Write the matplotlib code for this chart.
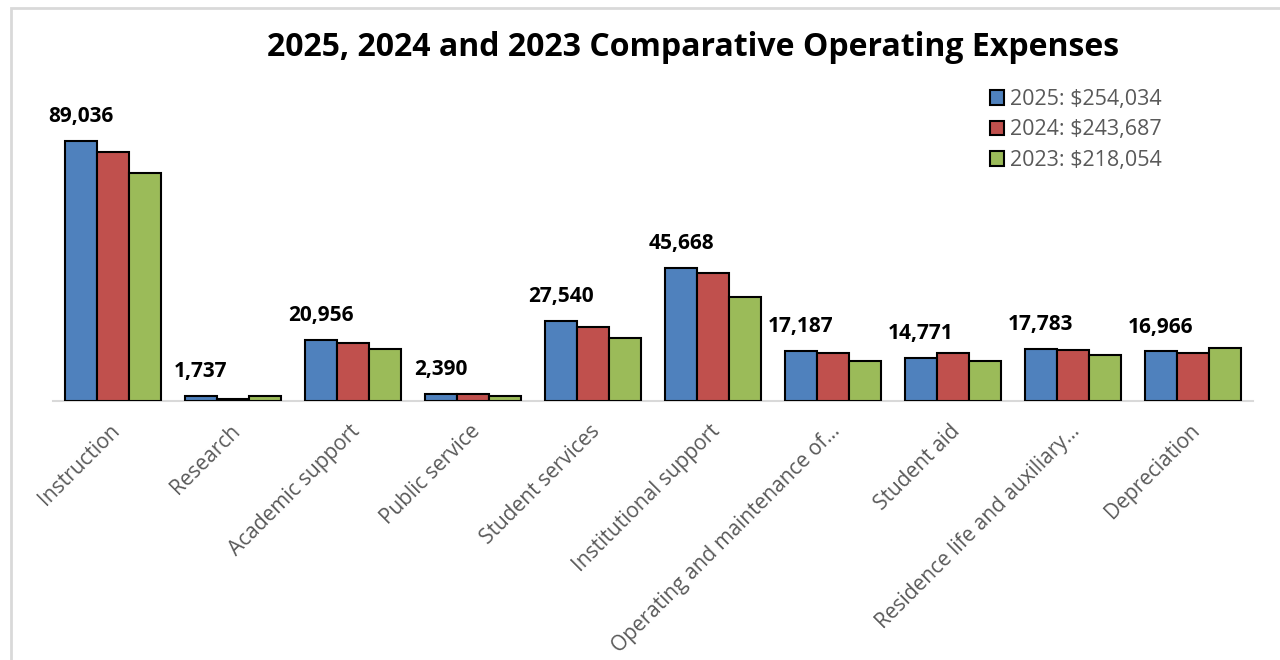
import numpy as np
import matplotlib.pyplot as plt
from matplotlib.patches import Rectangle

categories = ["Instruction", "Research", "Academic support", "Public service",
              "Student services", "Institutional support",
              "Operating and maintenance of...", "Student aid",
              "Residence life and auxiliary...", "Depreciation"]
vals_2025 = [89036, 1737, 20956, 2390, 27540, 45668, 17187, 14771, 17783, 16966]
vals_2024 = [85300, 700, 19800, 2350, 25200, 43700, 16400, 16300, 17450, 16400]
vals_2023 = [78150, 1750, 17700, 1800, 21500, 35700, 13700, 13850, 15900, 18000]
series_labels = ["2025: $254,034", "2024: $243,687", "2023: $218,054"]
colors = ["#4F81BD", "#C0504D", "#9BBB59"]

plt.rcParams['font.family'] = ['Open Sans', 'DejaVu Sans']

fig = plt.figure(figsize=(12.8, 6.6), dpi=100)
fig.patches.append(Rectangle((11 / 1280, -0.1), 1.2, (660 - 8) / 660 + 0.1,
                             transform=fig.transFigure, fill=False,
                             edgecolor="#d9d9d9", linewidth=2, zorder=0))

ax = fig.add_axes([53 / 1280, (660 - 401) / 660, 1200 / 1280, 300 / 660])
x = np.arange(len(categories))
w = 0.267
all_vals = [vals_2025, vals_2024, vals_2023]
for i, (v, c, lab) in enumerate(zip(all_vals, colors, series_labels)):
    ax.bar(x + (i - 1) * w, v, width=w, color=c, edgecolor="black",
           linewidth=1.5, label=lab, zorder=3)

# value labels only on the 2025 series
for xi, v in zip(x, vals_2025):
    ax.annotate(f"{v:,}", (xi - w, v), xytext=(0, 10), textcoords="offset points",
                ha="center", va="bottom", fontsize=15, fontweight="bold",
                color="black")

ax.set_xlim(-0.5, len(categories) - 0.5)
ax.set_ylim(0, 102780)
ax.set_yticks([])
ax.set_xticks(x - 0.03)
ax.set_xticklabels(categories, rotation=45, ha="right", rotation_mode="anchor",
                   fontsize=15, color="#595959")
ax.tick_params(axis="x", length=0, pad=14)
for s in ["top", "right", "left"]:
    ax.spines[s].set_visible(False)
ax.spines["bottom"].set_color("#d9d9d9")
ax.spines["bottom"].set_linewidth(1.5)

leg = ax.legend(loc="upper left", bbox_to_anchor=(0.781, 1.04), frameon=False,
                fontsize=15.5, handlelength=0.65, handleheight=0.65,
                handletextpad=0.25, labelspacing=0.44, borderaxespad=0,
                borderpad=0)
for t in leg.get_texts():
    t.set_color("#595959")

fig.text(693 / 1280, 1 - 47 / 660,
         "2025, 2024 and 2023 Comparative Operating Expenses",
         ha="center", va="center", fontsize=23, fontweight="bold")

fig.savefig("out.png", dpi=100)
